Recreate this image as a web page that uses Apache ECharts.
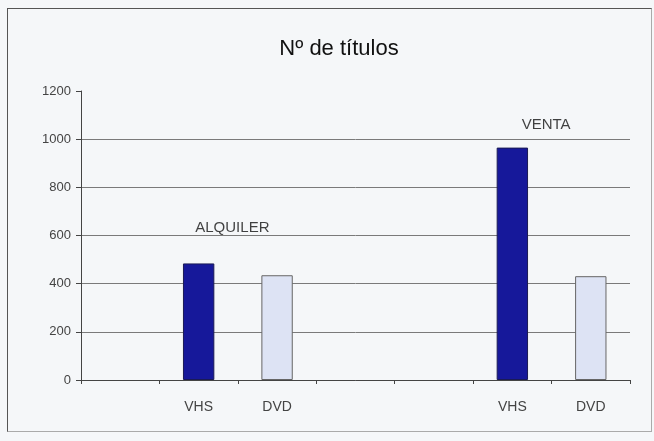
<!DOCTYPE html>
<html>
<head>
<meta charset="utf-8">
<script src="https://cdn.jsdelivr.net/npm/echarts@6/dist/echarts.min.js"></script>
<style>
  html, body { margin: 0; padding: 0; background: #f5f7f9; }
  #frame { position: absolute; left: 7px; top: 8px; width: 645px; height: 424px;
           border-left: 1px solid #555; border-top: 1px solid #555;
           border-right: 1px solid #aaa; border-bottom: 1px solid #aaa; box-sizing: border-box; }
  #chart { position: absolute; left: 0; top: 0; width: 654px; height: 441px; }
</style>
</head>
<body>
<div id="frame"></div>
<div id="chart"></div>
<script>
// Number of titles by format, for rental and sale
const categories = ['', 'VHS', 'DVD', '', '', 'VHS', 'DVD'];
const vhsValues  = [null, 484, null, null, null, 965, null];
const dvdValues  = [null, null, 435, null, null, null, 431];
const yTicks = [0, 200, 400, 600, 800, 1000, 1200];
// group captions: [text, x in category units, y value]
const groupLabels = [
  ['ALQUILER', 1.93, 630],
  ['VENTA', 5.93, 1060]
];

const chart = echarts.init(document.getElementById('chart'), null, { renderer: 'canvas' });

const font = 'Liberation Sans, Arial, sans-serif';
const gridColor = '#7a7a7a';
chart.setOption({
  backgroundColor: 'transparent',
  animation: false,
  title: {
    text: 'Nº de títulos',
    left: 334, top: 33, textAlign: 'center',
    textStyle: { fontFamily: font, fontSize: 22, fontWeight: 'normal', color: '#111' }
  },
  grid: { left: 81, right: 24, top: 91, bottom: 61 },
  xAxis: [{
    type: 'category',
    data: categories,
    boundaryGap: true,
    axisLine: { lineStyle: { color: '#444', width: 1 } },
    axisTick: { show: true, length: 4, alignWithLabel: false, lineStyle: { color: '#444' } },
    axisLabel: { interval: 0, margin: 20, color: '#444', fontSize: 14, fontFamily: font }
  }, {
    type: 'value', min: 0, max: 7, show: false
  }],
  yAxis: {
    type: 'value',
    min: yTicks[0], max: yTicks[yTicks.length - 1], interval: 200,
    axisLine: { show: true, lineStyle: { color: '#444' } },
    axisTick: { show: true, length: 5, lineStyle: { color: '#444' } },
    axisLabel: { margin: 10, color: '#444', fontSize: 13, fontFamily: font, formatter: v => String(v) },
    splitLine: {
      show: true,
      lineStyle: { color: [gridColor, gridColor, gridColor, gridColor, gridColor, gridColor, 'rgba(0,0,0,0)'], width: 1 }
    }
  },
  series: [{
    name: 'VHS', type: 'bar', data: vhsValues, barWidth: '40%', barGap: '-100%',
    itemStyle: { color: '#16189a', borderColor: '#1a1a55', borderWidth: 1 }
  }, {
    name: 'DVD', type: 'bar', data: dvdValues, barWidth: '40%', barGap: '-100%',
    itemStyle: { color: '#dde3f4', borderColor: '#666', borderWidth: 1 }
  }, {
    name: 'groups', type: 'scatter', xAxisIndex: 1, symbolSize: 0, silent: true,
    data: groupLabels.map(g => ({ value: [g[1], g[2]], name: g[0] })),
    label: { show: true, position: 'inside', formatter: p => p.name,
             color: '#111', fontSize: 15, fontFamily: font }
  }]
});
</script>
</body>
</html>
